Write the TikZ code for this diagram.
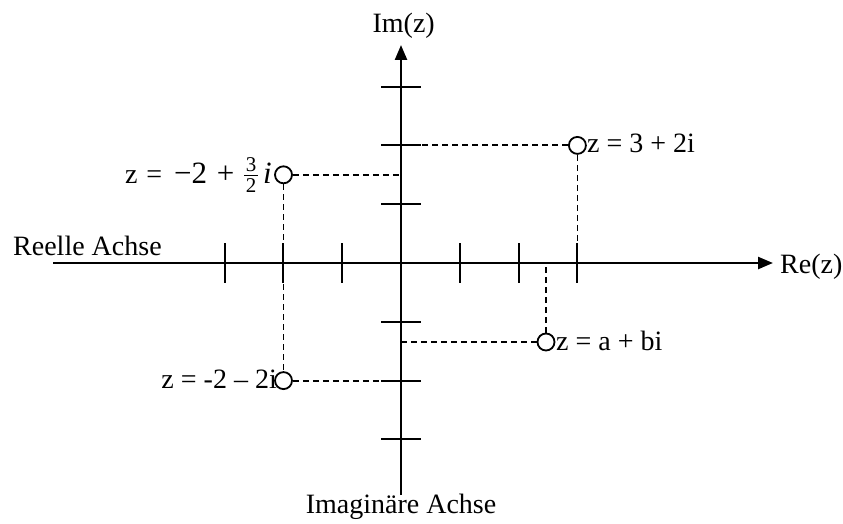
\documentclass[tikz,border=0pt]{standalone}
\usepackage{fontspec}
\setmainfont{Liberation Serif}
\usetikzlibrary{arrows.meta}
\newcommand\stfrac[2]{\raisebox{-9.3pt}{\vbox{\fontsize{21}{21}\selectfont\hbox to 14pt{\hss#1\hss}\kern2.5pt\hrule height 1.2pt\kern2.5pt\hbox to 14pt{\hss#2\hss}}}}
\begin{document}
\begin{tikzpicture}[x=1pt,y=-1pt,
  axis/.style={line width=2.4pt,-{Triangle[length=15pt,width=12pt]}},
  tickline/.style={line width=2pt},
  helper/.style={line width=1.8pt,dash pattern=on 6pt off 4pt},
  pt/.style={circle,draw,line width=1.8pt,minimum size=17pt,inner sep=0pt,fill=white},
  lbl/.style={inner sep=0pt,font=\fontsize{28}{34}\selectfont}]
\useasboundingbox (0,0) rectangle (843,524);
\def\U{58.8}
\def\OX{401}
\def\OY{263}
% axis end coordinates
\coordinate (xl) at (53,\OY);
\coordinate (xr) at (773,\OY);
\coordinate (yb) at (\OX,495);
\coordinate (yt) at (\OX,45);
% ticks
\foreach \k in {-3,-2,-1,1,2,3}{
  \draw[tickline] ({\OX+\k*\U},\OY-20) -- ({\OX+\k*\U},\OY+20);
  \draw[tickline] (\OX-20,{\OY-\k*\U}) -- (\OX+20,{\OY-\k*\U});
}
% axes
\draw[axis] (xl) -- (xr);
\draw[axis] (yb) -- (yt);
% axis labels
\node[lbl,anchor=base west] (relabel) at (13,255) {Reelle Achse};
\node[lbl,anchor=base west] (rez) at (780,273) {Re(z)};
\node[lbl,anchor=base east] (imz) at (435,33) {Im(z)};
\node[lbl,anchor=base] (imlabel) at (401,513) {Imaginäre Achse};
% reference coordinates on axes
\coordinate (xthree) at ({\OX+3*\U},\OY);
\coordinate (ytwo) at (\OX,{\OY-2*\U});
\coordinate (yonehalf) at (\OX,{\OY-1.5*\U});
\coordinate (ymtwo) at (\OX,{\OY+2*\U});
\coordinate (xa) at (546,\OY);
\coordinate (yb2) at (\OX,342);
% points
\node[pt] (p1) at ({\OX+3*\U},{\OY-2*\U}) {};
\node[pt] (p2) at (283.5,{\OY-1.5*\U}) {};
\node[pt] (p3) at (283.5,{\OY+2*\U}) {};
\node[pt] (p4) at (546,342) {};
% dashed helpers
\draw[helper] (p1) -- (ytwo);
\draw[helper] (p1) -- (xthree);
\draw[helper] (p2) -- (yonehalf);
\draw[helper] (p2) -- (p3);
\draw[helper] (p3) -- (ymtwo);
\draw[helper] (p4) -- (yb2);
\draw[helper] (p4) -- (xa);
% point labels
\node[lbl,anchor=base west] (l1) at (587,153) {z = 3 + 2i};
\node[lbl,anchor=base east] (l2) at (272,183) {z \hspace{2pt}=\hspace{5pt} {\fontsize{31}{34}\selectfont −2\hspace{2pt} +\hspace{2pt} }\stfrac{3}{2}\hspace{5pt}{\fontsize{31}{34}\selectfont\textit{i}}};
\node[lbl,anchor=base east] (l3) at (277,388) {z = -2 – 2i};
\node[lbl,anchor=base west] (l4) at (556,350) {z = a + bi};
\end{tikzpicture}
\end{document}
